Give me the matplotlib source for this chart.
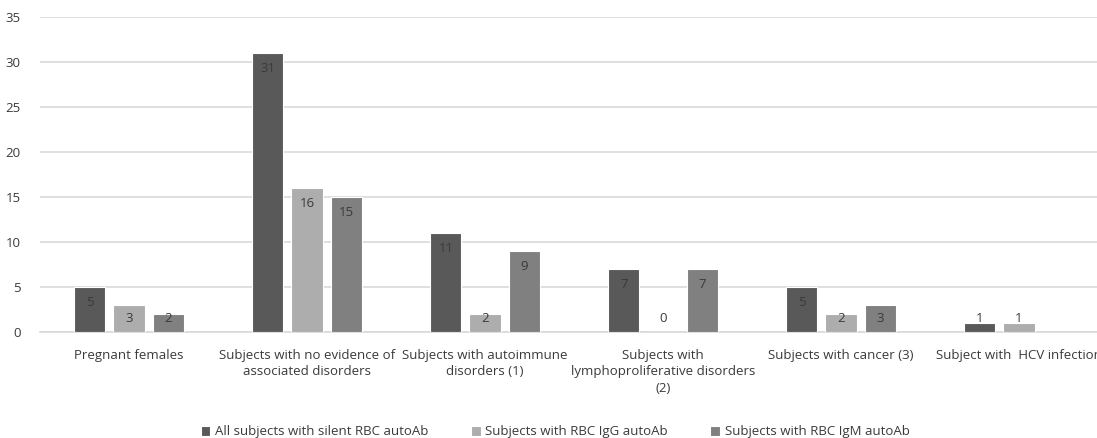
import matplotlib
matplotlib.use('Agg')
import matplotlib.pyplot as plt
import numpy as np

plt.rcParams['font.family'] = ['Open Sans', 'DejaVu Sans']

# data
categories = ['Pregnant females',
              'Subjects with no evidence of\nassociated disorders',
              'Subjects with autoimmune\ndisorders (1)',
              'Subjects with\nlymphoproliferative disorders\n(2)',
              'Subjects with cancer (3)',
              'Subject with  HCV infection']
series_names = ['All subjects with silent RBC autoAb',
                'Subjects with RBC IgG autoAb',
                'Subjects with RBC IgM autoAb']
all_silent = [5, 31, 11, 7, 5, 1]
igg = [3, 16, 2, 0, 2, 1]
igm = [2, 15, 9, 7, 3, None]
yticks = [0, 5, 10, 15, 20, 25, 30, 35]

colors = ['#595959', '#adadad', '#808080']

fig = plt.figure(figsize=(10.97, 4.38), dpi=100)
# axes runs past the right edge, like the cropped original
ax = fig.add_axes([40/1097, (438-332)/438, 1068/1097, 315/438])

x = np.arange(len(categories))
width = 0.175
step = 0.22
for i, (vals, name) in enumerate(zip([all_silent, igg, igm], series_names)):
    xs = [xi + (i - 1)*step for xi, v in zip(x, vals) if v is not None]
    vs = [v for v in vals if v is not None]
    ax.bar(xs, vs, width, color=colors[i], edgecolor='white', linewidth=0.8,
           label=name, zorder=3)
    for xx, v in zip(xs, vs):
        ax.text(xx, max(v - 1.75, 1.55), str(v), ha='center', va='center',
                fontsize=9.5, color='#3a3a3a', zorder=4)

ax.set_xlim(-0.5, len(categories) - 0.5)
ax.set_ylim(0, 35)
ax.set_yticks(yticks)
ax.set_xticks(x)
ax.set_xticklabels(categories, fontsize=9.5, color='#3a3a3a', linespacing=1.35)
ax.tick_params(axis='y', labelsize=9.5, labelcolor='#3a3a3a', length=0, pad=14)
ax.tick_params(axis='x', length=0, pad=12)
ax.yaxis.grid(True, color='#d9d9d9', linewidth=1.2, zorder=0)
for s in ['top', 'right', 'left']:
    ax.spines[s].set_visible(False)
ax.spines['bottom'].set_color('#d9d9d9')
ax.spines['bottom'].set_linewidth(1.2)

fig.legend(loc='center', bbox_to_anchor=(555/1097, 1 - 432/438), ncol=3,
           frameon=False, fontsize=9.5, handlelength=0.75, handleheight=0.75,
           handletextpad=0.35, columnspacing=3.2, labelcolor='#3a3a3a')

fig.savefig('out.png', dpi=100)
